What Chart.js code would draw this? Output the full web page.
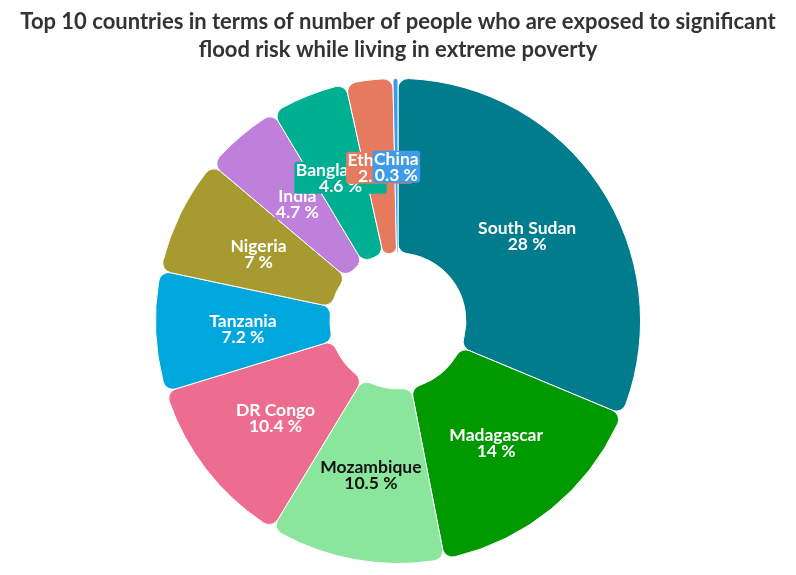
<!DOCTYPE html>
<html>
<head>
<meta charset="utf-8">
<script src="https://cdn.jsdelivr.net/npm/chart.js@4"></script>
<style>
html,body{margin:0;padding:0;background:#fff;}
#wrap{width:796px;height:575px;position:relative;}
</style>
</head>
<body>
<div id="wrap"><canvas id="c"></canvas></div>
<script>
const countries = ["South Sudan","Madagascar","Mozambique","DR Congo","Tanzania","Nigeria","India","Bangladesh","Ethiopia","China"];
const shares = [28, 14, 10.5, 10.4, 7.2, 7, 4.7, 4.6, 2.8, 0.3];
const colors = ["#007C8C","#009A00","#8AE69C","#EC6D8F","#00A7DD","#A79A30","#BF80DB","#00AF91","#E67A5F","#3F9BE8"];
const labelColors = ["#fff","#fff","#111","#fff","#fff","#fff","#fff","#fff","#fff","#fff"];
const titleLines = ["Top 10 countries in terms of number of people who are exposed to significant","flood risk while living in extreme poverty"];

const FONT = "Lato";

const labelPlugin = {
  id: "arcLabels",
  afterDatasetsDraw(chart) {
    const ctx = chart.ctx;
    const meta = chart.getDatasetMeta(0);
    ctx.save();
    ctx.font = "bold 17.5px " + FONT;
    ctx.textAlign = "center";
    ctx.textBaseline = "middle";
    meta.data.forEach((arc, i) => {
      const p = arc.tooltipPosition();
      const cy = p.y + 1;
      const l1 = countries[i];
      const l2 = shares[i] + " %";
      const w = Math.max(ctx.measureText(l1).width, ctx.measureText(l2).width);
      const lh = 16;
      const padX = 1.5, padY = 0;
      const bw = w + padX * 2, bh = lh * 2 + padY * 2;
      const bx = p.x - bw / 2, by = cy - bh / 2;
      ctx.fillStyle = colors[i];
      ctx.beginPath();
      ctx.roundRect(bx, by, bw, bh, 3);
      ctx.fill();
      ctx.fillStyle = labelColors[i];
      ctx.fillText(l1, p.x, cy - lh / 2 + 1);
      ctx.fillText(l2, p.x, cy + lh / 2 + 1);
    });
    ctx.restore();
  }
};

new Chart(document.getElementById("c"), {
  type: "doughnut",
  data: {
    labels: countries,
    datasets: [{
      data: shares,
      backgroundColor: colors,
      borderColor: "#ffffff",
      borderWidth: 1,
      borderRadius: 10,
      spacing: 0
    }]
  },
  options: {
    responsive: true,
    maintainAspectRatio: false,
    animation: false,
    cutout: "28%",
    layout: { padding: { top: 0, bottom: 11, left: 0, right: 0 } },
    plugins: {
      legend: { display: false },
      tooltip: { enabled: false },
      title: {
        display: true,
        text: titleLines,
        color: "#333333",
        font: { family: FONT, size: 22, weight: "bold", lineHeight: 1.27 },
        padding: { top: 8, bottom: 14 }
      }
    }
  },
  plugins: [labelPlugin]
});
</script>
</body>
</html>
